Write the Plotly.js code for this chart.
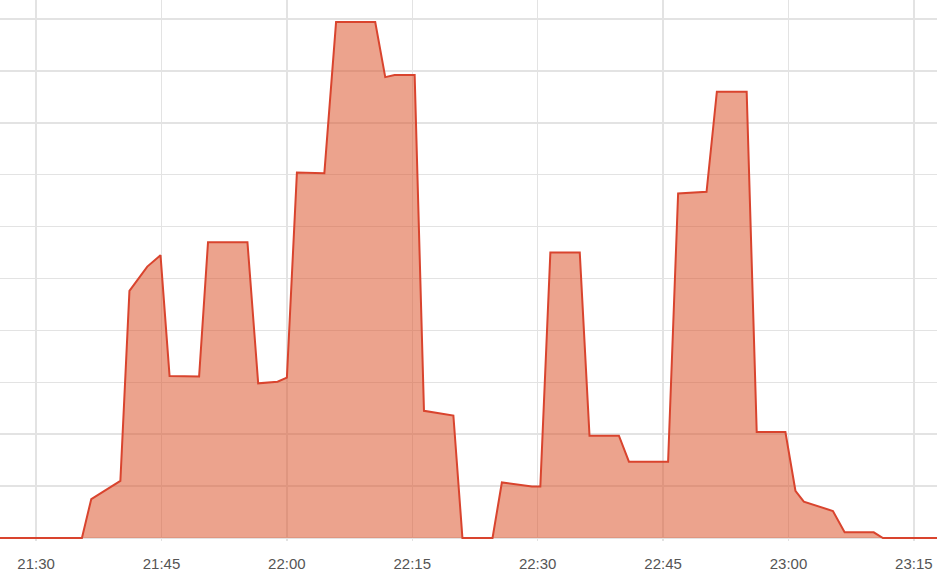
<!DOCTYPE html>
<html>
<head>
<meta charset="utf-8">
<script src="https://cdn.plot.ly/plotly-3.0.1.min.js"></script>
<style>html,body{margin:0;padding:0;background:#fff;}#chart{width:937px;height:586px;}</style>
</head>
<body>
<div id="chart"></div>
<script>
const times = [
  "2024-01-01 21:25:00","2024-01-01 21:35:29","2024-01-01 21:36:36","2024-01-01 21:40:05",
  "2024-01-01 21:41:10","2024-01-01 21:43:18","2024-01-01 21:44:53","2024-01-01 21:45:58",
  "2024-01-01 21:49:30","2024-01-01 21:50:34","2024-01-01 21:55:17","2024-01-01 21:56:34",
  "2024-01-01 21:58:53","2024-01-01 22:00:00","2024-01-01 22:01:12","2024-01-01 22:04:29",
  "2024-01-01 22:05:53","2024-01-01 22:10:34","2024-01-01 22:11:46","2024-01-01 22:12:53",
  "2024-01-01 22:15:17","2024-01-01 22:16:24","2024-01-01 22:19:55","2024-01-01 22:21:00",
  "2024-01-01 22:24:36","2024-01-01 22:25:43","2024-01-01 22:29:19","2024-01-01 22:30:19",
  "2024-01-01 22:31:31","2024-01-01 22:35:02","2024-01-01 22:36:12","2024-01-01 22:39:43",
  "2024-01-01 22:40:55","2024-01-01 22:45:36","2024-01-01 22:46:48","2024-01-01 22:50:12",
  "2024-01-01 22:51:26","2024-01-01 22:55:00","2024-01-01 22:56:12","2024-01-01 22:59:38",
  "2024-01-01 23:00:50","2024-01-01 23:01:50","2024-01-01 23:05:19","2024-01-01 23:06:43",
  "2024-01-01 23:10:12","2024-01-01 23:11:18","2024-01-01 23:18:00"
];
const values = [
  0, 0, 7.5, 11.0,
  47.6, 52.3, 54.5, 31.2,
  31.1, 57.0, 57.0, 29.8,
  30.1, 30.9, 70.4, 70.3,
  99.4, 99.4, 88.8, 89.2,
  89.2, 24.5, 23.6, 0,
  0, 10.7, 9.9, 9.9,
  55.0, 55.0, 19.7, 19.7,
  14.7, 14.7, 66.4, 66.7,
  86.0, 86.0, 20.4, 20.4,
  9.1, 7.0, 5.2, 1.1,
  1.1, 0, 0
];
const xRange = ["2024-01-01 21:25:41", "2024-01-01 23:17:46"];
const yRange = [-0.58, 103.66];

const trace = {
  x: times, y: values, type: "scatter", mode: "lines",
  fill: "tozeroy", fillcolor: "rgba(220,88,48,0.55)",
  line: {color: "#d9442e", width: 2, shape: "linear"},
  hoverinfo: "skip"
};
const layout = {
  width: 937, height: 586,
  margin: {l: 0, r: 0, t: 0, b: 45, pad: 0},
  paper_bgcolor: "#ffffff", plot_bgcolor: "#ffffff",
  showlegend: false,
  xaxis: {
    type: "date", range: xRange, dtick: 15*60*1000, tick0: "2024-01-01 21:30:00",
    tickformat: "%H:%M", showgrid: true, gridcolor: "#e3e3e3", gridwidth: 1.5,
    zeroline: false, showline: false, ticks: "", ticklabelstandoff: 12,
    tickfont: {family: "Liberation Sans, Arial, sans-serif", size: 15, color: "#555555"}
  },
  yaxis: {
    range: yRange, dtick: 10, tick0: 0, showticklabels: false,
    showgrid: true, gridcolor: "#e3e3e3", gridwidth: 1.5, zeroline: false, showline: false
  }
};
Plotly.newPlot("chart", [trace], layout, {staticPlot: true, displayModeBar: false});
</script>
</body>
</html>
